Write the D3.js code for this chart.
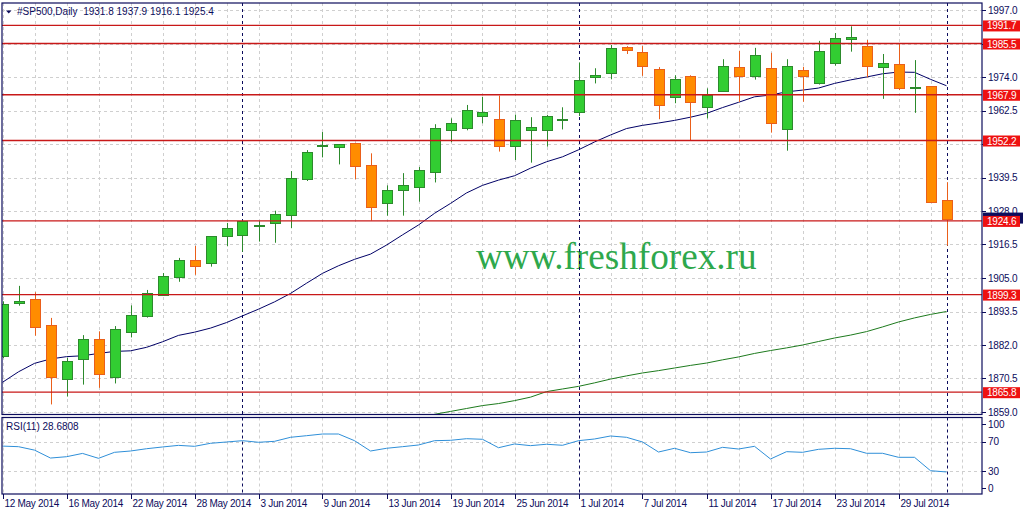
<!DOCTYPE html>
<html><head><meta charset="utf-8">
<script src="https://cdn.jsdelivr.net/npm/d3@7"></script>
<style>
body{margin:0;background:#fff;}
svg{display:block;}
text{font-family:"Liberation Sans",Arial,sans-serif;}
text.wm{font-family:"Liberation Serif","Times New Roman",serif;}
</style>
</head><body>
<svg id="c" width="1023" height="511"></svg>
<script>
// ---------- data ----------
const dates = ["2014-05-12","2014-05-13","2014-05-14","2014-05-15","2014-05-16","2014-05-19","2014-05-20","2014-05-21","2014-05-22","2014-05-23","2014-05-26","2014-05-27","2014-05-28","2014-05-29","2014-05-30",
"2014-06-02","2014-06-03","2014-06-04","2014-06-05","2014-06-06","2014-06-09","2014-06-10","2014-06-11","2014-06-12","2014-06-13","2014-06-16","2014-06-17","2014-06-18","2014-06-19","2014-06-20","2014-06-23","2014-06-24","2014-06-25","2014-06-26","2014-06-27","2014-06-30",
"2014-07-01","2014-07-02","2014-07-03","2014-07-04","2014-07-07","2014-07-08","2014-07-09","2014-07-10","2014-07-11","2014-07-14","2014-07-15","2014-07-16","2014-07-17","2014-07-18","2014-07-21","2014-07-22","2014-07-23","2014-07-24","2014-07-25","2014-07-28","2014-07-29","2014-07-30","2014-07-31",
"2014-08-01"];
const opens  = [1878.0,1896.3,1897.8,1888.8,1870.4,1877.0,1883.9,1870.9,1886.2,1891.7,1899.2,1905.4,1911.2,1910.0,1919.3,1919.7,1923.0,1923.8,1926.5,1939.1,1950.2,1949.9,1951.2,1943.7,1930.6,1935.1,1936.3,1941.3,1955.7,1956.3,1960.6,1959.5,1950.2,1956.1,1955.7,1959.2,1961.9,1973.9,1975.3,1984.3,1982.7,1976.9,1967.0,1974.2,1963.6,1969.1,1977.3,1974.1,1977.0,1956.0,1976.3,1971.8,1978.7,1986.8,1984.6,1977.3,1978.4,1970.1,1970.8,1931.8];
const highs  = [1897.0,1902.3,1900.1,1891.3,1877.6,1885.4,1886.7,1888.5,1895.6,1900.9,1906.7,1911.9,1916.0,1919.3,1923.9,1924.8,1924.5,1928.1,1941.7,1948.9,1955.1,1951.0,1951.4,1947.8,1936.8,1941.0,1943.1,1957.8,1959.8,1964.4,1967.2,1967.6,1961.1,1960.2,1961.0,1963.6,1979.0,1977.0,1985.0,1984.6,1984.6,1977.4,1974.6,1974.6,1970.1,1980.1,1983.0,1984.0,1982.3,1980.1,1977.5,1986.4,1989.1,1991.4,1986.7,1981.9,1985.3,1979.8,1970.8,1937.9];
const lows   = [1877.5,1895.5,1885.2,1861.6,1864.3,1868.4,1867.3,1868.8,1884.6,1891.4,1898.9,1903.7,1906.1,1908.9,1915.9,1914.0,1917.5,1917.1,1922.1,1938.3,1946.4,1944.0,1938.9,1924.7,1926.4,1926.4,1931.2,1937.8,1951.6,1955.7,1958.1,1948.4,1945.5,1944.6,1950.1,1956.0,1960.6,1971.8,1973.2,1981.9,1974.4,1959.5,1965.0,1952.1,1959.8,1969.1,1965.4,1973.1,1954.9,1948.7,1965.5,1971.4,1977.9,1982.7,1973.9,1966.5,1969.5,1961.7,1931.0,1916.1];
const closes = [1896.0,1897.0,1888.1,1870.9,1876.5,1883.9,1871.9,1887.4,1892.2,1899.7,1905.6,1911.1,1909.0,1919.3,1922.1,1924.5,1923.3,1926.9,1939.2,1948.3,1950.5,1950.9,1943.3,1929.3,1935.1,1936.8,1942.1,1956.4,1958.1,1962.6,1961.9,1950.2,1959.1,1957.0,1960.5,1959.5,1972.9,1974.6,1983.9,1983.2,1978.0,1964.4,1973.2,1965.3,1967.7,1977.8,1974.1,1981.4,1958.1,1977.7,1974.1,1982.8,1987.3,1987.6,1977.9,1978.8,1970.1,1970.4,1931.0,1925.4];
const maFast = [1869.2,1872.8,1875.7,1877.2,1878.0,1878.3,1879.1,1879.8,1880.0,1881.2,1883.1,1885.3,1886.4,1887.8,1889.7,1892.0,1894.3,1896.8,1899.7,1903.2,1906.6,1909.2,1911.4,1913.2,1916.3,1919.8,1923.2,1927.2,1930.6,1934.2,1936.8,1938.6,1940.1,1942.7,1944.9,1946.6,1949.0,1951.7,1954.1,1956.3,1957.4,1958.2,1959.1,1960.2,1961.5,1963.5,1965.3,1967.2,1967.8,1968.9,1969.5,1970.2,1971.8,1973.0,1974.0,1975.1,1975.7,1975.6,1973.2,1971.0];
const maSlow = [null,null,null,null,null,null,null,null,null,null,null,null,null,null,null,null,null,null,null,null,null,null,null,null,null,null,1857.0,1858.2,1859.2,1860.2,1861.2,1861.9,1862.9,1864.1,1866.0,1866.9,1867.8,1869.0,1870.3,1871.4,1872.4,1873.2,1874.1,1875.0,1875.8,1876.9,1877.9,1879.1,1880.1,1881.0,1882.0,1883.2,1884.4,1885.4,1886.6,1888.2,1889.9,1891.3,1892.5,1893.5];
const rsi = [64.0,63.2,58.5,47.7,49.5,54.0,47.3,55.5,57.3,60.4,62.8,65.0,63.7,67.8,69.6,71.4,69.2,70.5,76.0,78.2,80.5,80.5,71.4,57.3,61.0,63.2,65.5,71.4,71.9,74.1,73.3,61.8,66.9,64.6,66.5,65.1,71.4,73.7,77.8,76.0,69.6,55.9,61.0,55.0,55.9,62.3,60.0,63.7,46.4,56.4,55.5,59.6,61.0,60.4,54.2,54.2,48.7,48.7,30.4,28.6808];
const priceTicks = [1859.0,1870.5,1882.0,1893.5,1905.0,1916.5,1928.0,1939.5,1951.0,1962.5,1974.0,1985.5,1997.0];
const priceTickShown = [1859.0,1870.5,1882.0,1893.5,1905.0,1916.5,1928.0,1939.5,1962.5,1974.0,1997.0];
const levels = [1991.7,1985.5,1967.9,1952.2,1924.6,1899.3,1865.8];
const rsiTicks = [0,30,70,100];
const rsiGrid = [30,70];
const dateTicks = ["2014-05-12","2014-05-16","2014-05-22","2014-05-28","2014-06-03","2014-06-09","2014-06-13","2014-06-19","2014-06-25","2014-07-01","2014-07-07","2014-07-11","2014-07-17","2014-07-23","2014-07-29"];
const separators = ["2014-06-02","2014-07-01","2014-08-01"];
const symbol = "#SP500,Daily";
const headerVals = [1931.8,1937.9,1916.1,1925.4];
const rsiName = "RSI(11)";
const watermark = "www.freshforex.ru";

// ---------- layout ----------
const svg = d3.select("#c");
const L = 2, R = 982, T = 3, B = 414.5, RT = 417.5, RB = 494;
const navy = "#0c0c5c";
const x = d3.scaleLinear().domain([0, dates.length - 1]).range([2.5, 946.5]);
const y = d3.scaleLinear().domain([1859, 1997]).range([412, 10]);
const yr = d3.scaleLinear().domain([30, 70]).range([471, 441.7]);
const parse = d3.timeParse("%Y-%m-%d"), fmt = d3.timeFormat("%-d %b %Y");

const defs = svg.append("defs");
defs.append("clipPath").attr("id","cm").append("rect").attr("x",L).attr("y",T).attr("width",R-L).attr("height",B-T);
defs.append("clipPath").attr("id","cr").append("rect").attr("x",L).attr("y",RT).attr("width",R-L).attr("height",RB-RT);

const main = svg.append("g").attr("clip-path","url(#cm)");
const sub = svg.append("g").attr("clip-path","url(#cr)");

const gridIdx = d3.range(0, 62, 2);
// grids
[main, sub].forEach((g, k) => {
  g.selectAll("line.vg").data(gridIdx).enter().append("line")
    .attr("x1", d => Math.round(x(d)) + 0.5).attr("x2", d => Math.round(x(d)) + 0.5)
    .attr("y1", k ? RT : T).attr("y2", k ? RB : B)
    .attr("stroke","#cfcfcf").attr("stroke-dasharray","3,3");
});
main.selectAll("line.hg").data(priceTicks).enter().append("line")
  .attr("x1",L).attr("x2",R).attr("y1",d=>Math.round(y(d))+0.5).attr("y2",d=>Math.round(y(d))+0.5)
  .attr("stroke","#cfcfcf").attr("stroke-dasharray","3,3");
sub.selectAll("line.hg").data(rsiGrid).enter().append("line")
  .attr("x1",L).attr("x2",R).attr("y1",d=>Math.round(yr(d))+0.5).attr("y2",d=>Math.round(yr(d))+0.5)
  .attr("stroke","#cfcfcf").attr("stroke-dasharray","3,3");

// watermark
main.append("text").attr("class","wm").attr("x",476).attr("y",269)
  .attr("font-size",37.2).attr("fill","#2ea84c").text(watermark);

// period separators
[main, sub].forEach((g, k) => {
  g.selectAll("line.sep").data(separators).enter().append("line")
    .attr("x1", d => Math.round(x(dates.indexOf(d))) + 0.5).attr("x2", d => Math.round(x(dates.indexOf(d))) + 0.5)
    .attr("y1", k ? RT : T).attr("y2", k ? RB : B)
    .attr("stroke", navy).attr("stroke-dasharray","3,3");
});

// moving averages
const lineGen = d3.line().defined(d => d != null).x((d,i) => x(i)).y(d => y(d));
main.append("path").attr("d", lineGen(maSlow)).attr("fill","none").attr("stroke","#1d7a1d").attr("stroke-width",1);
main.append("path").attr("d", lineGen(maFast)).attr("fill","none").attr("stroke","#000066").attr("stroke-width",1);

// candles
const idx = d3.range(dates.length);
const cg = main.append("g");
idx.forEach(i => {
  const up = closes[i] >= opens[i];
  const cx = Math.round(x(i)) + 0.5;
  const wick = up ? "#2c8a2c" : "#ea5f1a";
  cg.append("line").attr("x1",cx).attr("x2",cx).attr("y1",y(highs[i])).attr("y2",y(lows[i]))
    .attr("stroke",wick).attr("stroke-width",1);
  const top = y(Math.max(opens[i], closes[i])), bot = y(Math.min(opens[i], closes[i]));
  const h = Math.max(bot - top, 1);
  cg.append("rect").attr("x", cx - 5).attr("y", Math.round(top) + 0.5).attr("width", 10).attr("height", Math.max(Math.round(h), 1))
    .attr("fill", up ? "#32cd32" : "#ff8c00").attr("stroke", up ? "#2c8a2c" : "#ea5f1a").attr("stroke-width",1);
});

// horizontal levels
main.selectAll("line.lv").data(levels).enter().append("line")
  .attr("x1",L).attr("x2",R).attr("y1",d=>y(d)).attr("y2",d=>y(d))
  .attr("stroke","#c81818").attr("stroke-width",1.3);

// rsi line
const rsiLine = d3.line().x((d,i)=>x(i)).y(d=>yr(d));
sub.append("path").attr("d", rsiLine(rsi)).attr("fill","none").attr("stroke","#2f8fd8").attr("stroke-width",1);

// borders
const bd = svg.append("g").attr("stroke", navy).attr("stroke-width",1.2).attr("fill","none");
bd.append("rect").attr("x",L).attr("y",T).attr("width",R-L).attr("height",B-T);
bd.append("rect").attr("x",L).attr("y",RT).attr("width",R-L).attr("height",RB-RT);

// price axis
const ax = svg.append("g");
priceTicks.forEach(v => {
  ax.append("line").attr("x1",R).attr("x2",R+4).attr("y1",Math.round(y(v))+0.5).attr("y2",Math.round(y(v))+0.5).attr("stroke",navy);
});
priceTickShown.forEach(v => {
  ax.append("text").attr("x",988).attr("y",y(v)+3.5).attr("font-size",10).attr("letter-spacing","-0.2")
    .attr("fill",navy).text(v.toFixed(1));
});
// bid marker (partly hidden)
const last = closes[closes.length-1];
ax.append("rect").attr("x",983).attr("y",y(last)-6).attr("width",40).attr("height",11).attr("fill","#0c0c5c");
levels.forEach(v => {
  ax.append("rect").attr("x",983).attr("y",y(v)-5).attr("width",37).attr("height",11).attr("fill","#ee1111");
  ax.append("text").attr("x",987).attr("y",y(v)+4).attr("font-size",10).attr("letter-spacing","-0.2")
    .attr("fill","#fff").text(v.toFixed(1));
});

// rsi axis
rsiTicks.forEach(v => {
  const yy = Math.max(424, Math.min(488, yr(v)));
  ax.append("line").attr("x1",R).attr("x2",R+4).attr("y1",Math.round(yy)+0.5).attr("y2",Math.round(yy)+0.5).attr("stroke",navy);
  ax.append("text").attr("x",988).attr("y",yy+3.5).attr("font-size",10).attr("fill",navy).text(v);
});

// date axis
dateTicks.forEach(d => {
  const i = dates.indexOf(d);
  const xx = Math.round(x(i)) + 0.5;
  ax.append("line").attr("x1",xx).attr("x2",xx).attr("y1",RB).attr("y2",RB+5).attr("stroke",navy);
  ax.append("text").attr("x",xx + 1).attr("y",507).attr("font-size",10).attr("letter-spacing","-0.3")
    .attr("fill",navy).text(fmt(parse(d)));
});

// header
svg.append("path").attr("d","M6,10.5 L11.5,10.5 L8.75,13.5 Z").attr("fill",navy);
svg.append("text").attr("x",17).attr("y",15).attr("font-size",10).attr("fill",navy)
  .attr("xml:space","preserve").style("white-space","pre")
  .text(symbol + "  " + headerVals.map(v=>v.toFixed(1)).join(" "));
svg.append("text").attr("x",6).attr("y",429.5).attr("font-size",10).attr("fill",navy)
  .text(rsiName + " " + rsi[rsi.length-1].toFixed(4));
</script>
</body></html>
